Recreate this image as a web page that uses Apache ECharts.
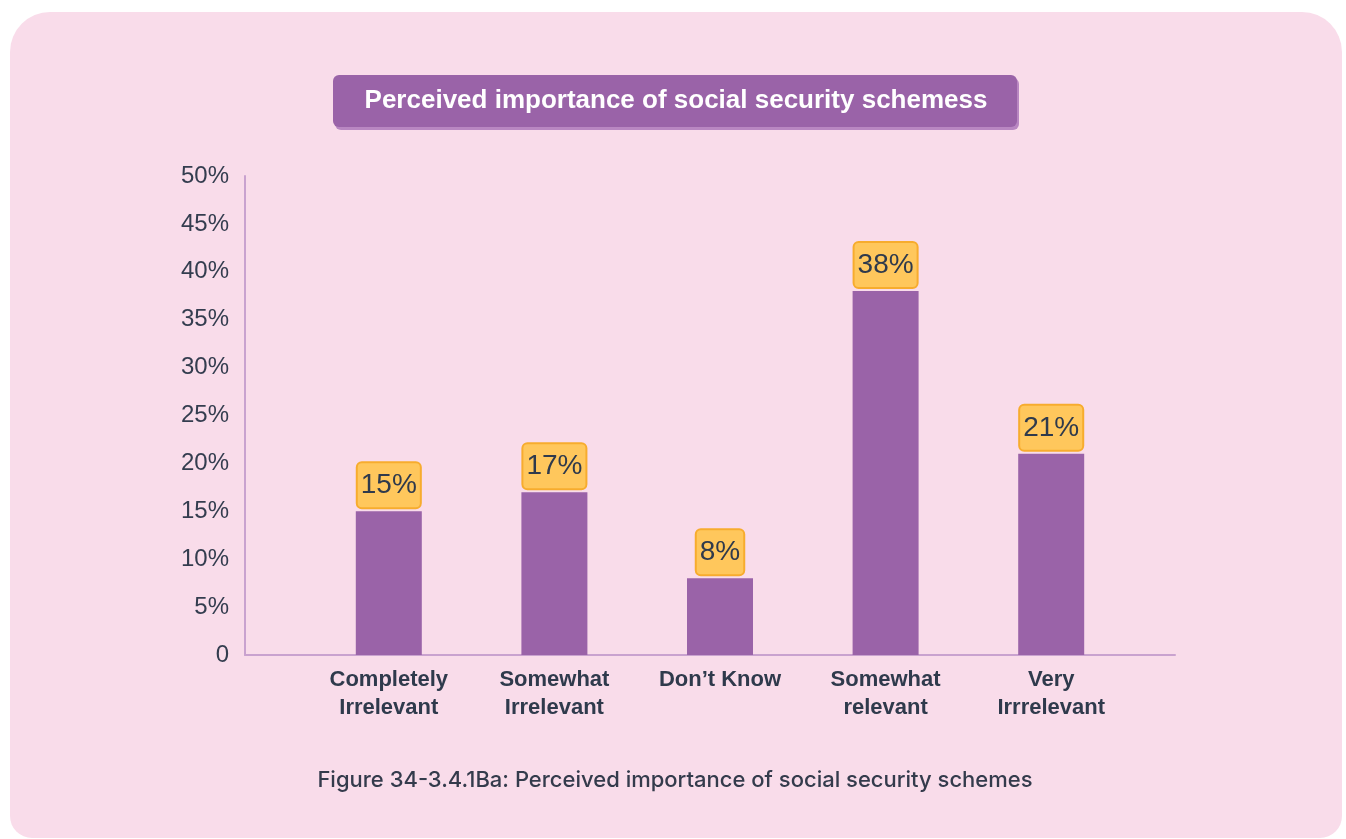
<!DOCTYPE html>
<html>
<head>
<meta charset="utf-8">
<script src="https://cdn.jsdelivr.net/npm/echarts@6/dist/echarts.min.js"></script>
<style>html,body{margin:0;padding:0;background:#fff;}#c{width:1346px;height:839px;}</style>
</head>
<body>
<div id="c"></div>
<script>
const categories = ['Completely\nIrrelevant', 'Somewhat\nIrrelevant', 'Don\u2019t Know', 'Somewhat\nrelevant', 'Very\nIrrrelevant'];
const values = [15, 17, 8, 38, 21];
const yTicks = [0, 5, 10, 15, 20, 25, 30, 35, 40, 45, 50];
const titleText = 'Perceived importance of social security schemess';
const captionText = 'Figure 34-3.4.1Ba: Perceived importance of social security schemes';

const FONT = '"Liberation Sans", Arial, Helvetica, sans-serif';
const chart = echarts.init(document.getElementById('c'), null, {renderer: 'canvas'});
const TOP = 176, BOTTOM = 839 - 655;
const option = {
  backgroundColor: '#ffffff',
  animation: false,
  graphic: [
    {type: 'rect', z: -10, shape: {x: 10, y: 12, width: 1332, height: 826, r: [40, 40, 22, 22]}, style: {fill: '#F9DCEA'}},
    {type: 'rect', z: 1, shape: {x: 335, y: 78, width: 684, height: 52, r: 6}, style: {fill: '#B987C2'}},
    {type: 'rect', z: 2, shape: {x: 333, y: 75, width: 684, height: 52, r: 6}, style: {fill: '#9A63A8'}},
    {type: 'text', z: 3, x: 676, y: 101, style: {text: titleText, fill: '#ffffff', font: 'bold 26px ' + FONT, align: 'center', verticalAlign: 'middle'}},
    {type: 'text', z: 3, x: 675, y: 780, style: {text: captionText, fill: '#343B4C', font: '500 22px Inter, "Noto Sans", sans-serif', align: 'center', verticalAlign: 'middle'}}
  ],
  grid: [
    {left: 306, right: 212, top: TOP, bottom: BOTTOM},
    {left: 245, right: 1346 - 1175, top: TOP, bottom: BOTTOM}
  ],
  xAxis: [
    {type: 'category', gridIndex: 0, data: categories,
     axisLine: {show: false}, axisTick: {show: false},
     axisLabel: {interval: 0, margin: 11, color: '#2F3A4C', fontSize: 22, fontWeight: 'bold', lineHeight: 28, fontFamily: FONT}},
    {type: 'value', gridIndex: 1, min: 0, max: 1,
     axisLine: {show: true, lineStyle: {color: '#C9A2CF', width: 2}}, axisTick: {show: false}, axisLabel: {show: false}, splitLine: {show: false}}
  ],
  yAxis: [
    {type: 'value', gridIndex: 0, min: 0, max: 50, show: false, splitLine: {show: false}},
    {type: 'value', gridIndex: 1, min: yTicks[0], max: yTicks[yTicks.length - 1], interval: 5,
     axisLine: {show: true, lineStyle: {color: '#C9A2CF', width: 2}}, axisTick: {show: false}, splitLine: {show: false},
     axisLabel: {margin: 16, color: '#343D4F', fontSize: 24, fontFamily: FONT,
       formatter: v => v === 0 ? '0' : v + '%'}}
  ],
  series: [{
    type: 'bar', xAxisIndex: 0, yAxisIndex: 0, data: values, barWidth: 66,
    itemStyle: {color: '#9A63A8'},
    label: {show: true, position: 'top', distance: 4, formatter: '{c}%',
      fontSize: 28, lineHeight: 32, color: '#2F3A4C', fontFamily: FONT,
      backgroundColor: '#FFC75C', borderColor: '#F7AC2E', borderWidth: 2, borderRadius: 4, padding: [6, 3, 6, 3]}
  }]
};
chart.setOption(option);
</script>
</body>
</html>
